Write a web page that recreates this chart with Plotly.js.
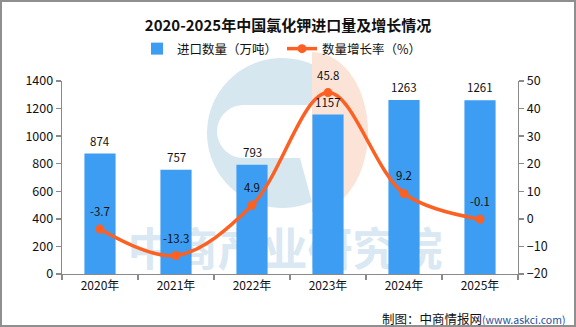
<!DOCTYPE html>
<html>
<head>
<meta charset="utf-8">
<script src="https://cdn.plot.ly/plotly-3.0.1.min.js"></script>
<style>
html,body{margin:0;padding:0;background:#fff;}
#wrap{position:relative;width:576px;height:327px;}
#chart{width:576px;height:327px;}
#frame{position:absolute;left:0;top:0;width:576px;height:327px;box-sizing:border-box;border:2px solid #8f8f8f;pointer-events:none;}
</style>
</head>
<body>
<div id="wrap"><div id="chart"></div><div id="frame"></div></div>
<script>
// ---- data ----
const years = ['2020年','2021年','2022年','2023年','2024年','2025年'];
const importVolume = [874, 757, 793, 1157, 1263, 1261];      // 万吨
const growthRate = [-3.7, -13.3, 4.9, 45.8, 9.2, -0.1];       // %
const leftTicks = [0, 200, 400, 600, 800, 1000, 1200, 1400];
const rightTicks = [-20, -10, 0, 10, 20, 30, 40, 50];

const FONT = '"Noto Sans CJK SC", "Noto Sans", sans-serif';
const BLUE = '#3d9df2';
const ORANGE = '#fc6022';

// plot-area geometry (pixels) used only for decorative watermark placement
const L = 62, R = 518, T = 81, B = 274;
function P(px, py){ return [(px - L)/(R - L), (B - py)/(B - T)]; }
function pathFrom(pts){
  return 'M' + pts.map(p => { const q = P(p[0], p[1]); return q[0].toFixed(4) + ',' + q[1].toFixed(4); }).join('L') + 'Z';
}
// logo "C" part
const cPts = [];
{
  const cx = 282, cy = 133, r = 75;
  for (let a = -66.4; a >= -293.6; a -= 4) {
    const t = a*Math.PI/180; cPts.push([cx + r*Math.cos(t), cy + r*Math.sin(t)]);
  }
  cPts.push([312, 202]); cPts.push([300, 158]);
  const hx = 243.5, hy = 131.5, hr = 26.5;
  for (let a = 90; a <= 270; a += 10) {
    const t = a*Math.PI/180; cPts.push([hx + hr*Math.cos(t), hy + hr*Math.sin(t)]);
  }
  cPts.push([312, 105]);
}
const sPts = [];
{
  const cx = 312, cy = 132, rx = 56, ry = 80;
  for (let a = -90; a <= 90; a += 6) {
    const t = a*Math.PI/180; sPts.push([cx + rx*Math.cos(t), cy + ry*Math.sin(t)]);
  }
}

const traces = [
  {
    type: 'bar', name: '进口数量（万吨）', x: years, y: importVolume,
    marker: {color: BLUE}, width: 0.41, yaxis: 'y', hoverinfo: 'skip'
  },
  {
    type: 'scatter', mode: 'lines+markers', name: '数量增长率（%）',
    x: years, y: growthRate, yaxis: 'y2',
    line: {color: ORANGE, width: 3.5, shape: 'spline', smoothing: 1},
    marker: {color: ORANGE, size: 9}, hoverinfo: 'skip'
  }
];

const annotations = [];
years.forEach((c, i) => {
  annotations.push({x: c, y: importVolume[i], xref: 'x', yref: 'y', text: String(importVolume[i]),
    showarrow: false, yanchor: 'middle', yshift: 13, font: {family: FONT, size: 11.5, color: '#111'}});
  annotations.push({x: c, y: growthRate[i], xref: 'x', yref: 'y2', text: String(growthRate[i]),
    showarrow: false, yanchor: 'middle', yshift: 18, font: {family: FONT, size: 11.5, color: '#111'}});
});
annotations.push({
  xref: 'paper', yref: 'paper', x: P(567,0)[0], y: P(0,318)[1], xanchor: 'right', yanchor: 'middle',
  showarrow: false,
  text: '<span style="color:#111;font-size:12.5px">制图：中商情报网</span><span style="color:#1f4f9e;font-size:10.5px">(www.askci.com)</span>',
  font: {family: FONT, size: 12.5}
});

const wm0 = P(112, 236), wm1 = P(458, 270);
const shapes = [
  {type: 'path', xref: 'paper', yref: 'paper', layer: 'below', path: pathFrom(cPts),
   fillcolor: '#d7e7f0', line: {width: 0}},
  {type: 'path', xref: 'paper', yref: 'paper', layer: 'below', path: pathFrom(sPts),
   fillcolor: '#fbe3d8', line: {width: 0}},
  {type: 'rect', xref: 'paper', yref: 'paper', layer: 'below',
   x0: wm0[0], x1: wm1[0], y0: wm1[1], y1: wm0[1],
   fillcolor: 'rgba(0,0,0,0)', line: {width: 0},
   label: {text: '<b>中商产业研究院</b>', textposition: 'middle center',
           font: {family: FONT, size: 45, color: '#d9e8f2'}}}
];

const axisCommon = {
  showgrid: false, zeroline: false, showline: true, linecolor: '#8a8a8a', linewidth: 1.3,
  ticks: 'outside', ticklen: 5, tickcolor: '#8a8a8a', tickwidth: 1.3,
  tickfont: {family: FONT, size: 12.5, color: '#111'}
};

const layout = {
  width: 576, height: 327,
  margin: {l: L, r: 576 - R, t: T, b: 327 - B, pad: 0},
  paper_bgcolor: '#fff', plot_bgcolor: 'rgba(0,0,0,0)',
  title: {text: '<b>2020-2025年中国氯化钾进口量及增长情况</b>', x: 0.5, xanchor: 'center',
          y: 1 - 26/327, yanchor: 'middle', yref: 'container',
          font: {family: FONT, size: 15, color: '#111'}},
  showlegend: true,
  legend: {orientation: 'h', x: P(282,0)[0], xanchor: 'center', y: P(0,49)[1], yanchor: 'middle',
           font: {family: FONT, size: 12.5, color: '#111'}, bgcolor: 'rgba(0,0,0,0)', traceorder: 'normal',
           itemwidth: 30},
  xaxis: Object.assign({}, axisCommon, {type: 'category', tickson: 'boundaries',
          tickfont: {family: FONT, size: 12, color: '#111'}}),
  yaxis: Object.assign({}, axisCommon, {range: [0, 1400], tickvals: leftTicks, ticktext: leftTicks.map(String)}),
  yaxis2: Object.assign({}, axisCommon, {overlaying: 'y', side: 'right', range: [-20, 50],
          tickvals: rightTicks, ticktext: rightTicks.map(v => v < 0 ? '−' + Math.abs(v) : String(v))}),
  bargap: 0.59,
  annotations: annotations,
  shapes: shapes
};

Plotly.newPlot('chart', traces, layout, {staticPlot: true, displayModeBar: false});
</script>
</body>
</html>
